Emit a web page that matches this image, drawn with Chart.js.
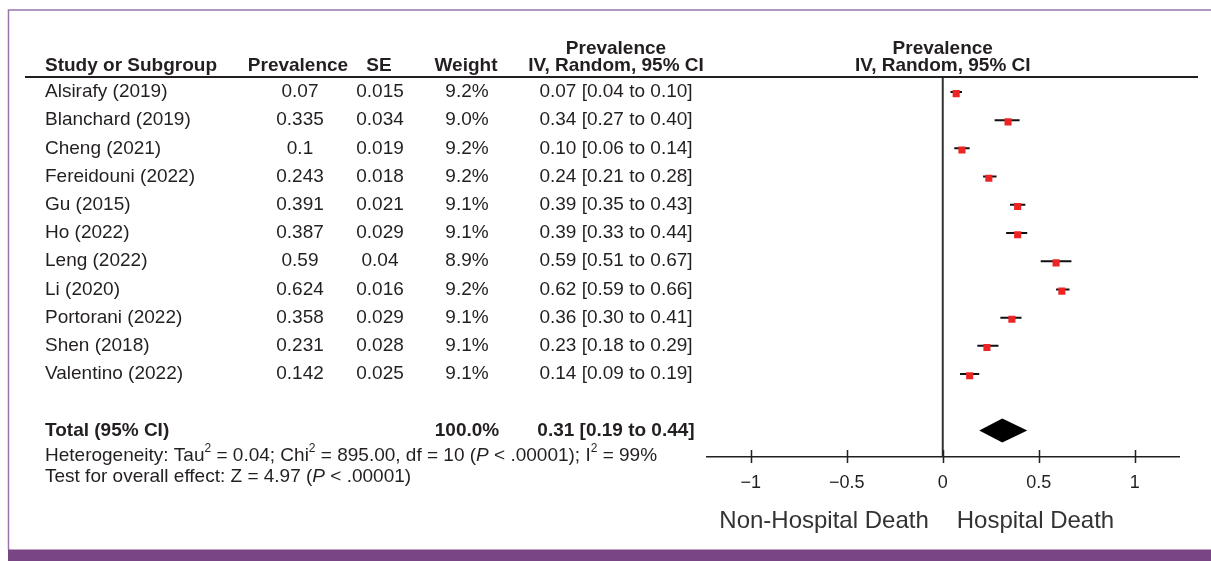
<!DOCTYPE html>
<html>
<head>
<meta charset="utf-8">
<title>Forest plot – hospital death prevalence</title>
<script src="https://cdn.jsdelivr.net/npm/chart.js@4.4.1/dist/chart.umd.min.js"></script>
<style>
  html, body { margin: 0; padding: 0; background: #ffffff; }
  canvas { display: block; }
</style>
</head>
<body>
<canvas id="forest" width="1211" height="561"></canvas>
<script>
// ---- study data ----
const studies = [
  'Alsirafy (2019)', 'Blanchard (2019)', 'Cheng (2021)', 'Fereidouni (2022)',
  'Gu (2015)', 'Ho (2022)', 'Leng (2022)', 'Li (2020)',
  'Portorani (2022)', 'Shen (2018)', 'Valentino (2022)'
];
const prevalenceText = ['0.07', '0.335', '0.1', '0.243', '0.391', '0.387', '0.59', '0.624', '0.358', '0.231', '0.142'];
const seText = ['0.015', '0.034', '0.019', '0.018', '0.021', '0.029', '0.04', '0.016', '0.029', '0.028', '0.025'];
const weightText = ['9.2%', '9.0%', '9.2%', '9.2%', '9.1%', '9.1%', '8.9%', '9.2%', '9.1%', '9.1%', '9.1%'];
const estimates = [0.07, 0.34, 0.10, 0.24, 0.39, 0.39, 0.59, 0.62, 0.36, 0.23, 0.14];
const ciLower   = [0.04, 0.27, 0.06, 0.21, 0.35, 0.33, 0.51, 0.59, 0.30, 0.18, 0.09];
const ciUpper   = [0.10, 0.40, 0.14, 0.28, 0.43, 0.44, 0.67, 0.66, 0.41, 0.29, 0.19];

// pooled estimate
const totalEstimate = 0.31;
const totalLower = 0.19;
const totalUpper = 0.44;
const totalWeightText = '100.0%';

// axis
const xTicks = [-1, -0.5, 0, 0.5, 1];
const xTickLabels = ['\u22121', '\u22120.5', '0', '0.5', '1'];

// ---- layout constants (row units on the y scale) ----
const ROW_TOP = -0.53;
const ROW_BOTTOM = 12.94;
const TOTAL_ROW = 12;
const SQUARE_DROP = 0.06;

const FONT = '"Liberation Sans", Arial, Helvetica, sans-serif';
const INK = '#231F20';

const fmt = v => v.toFixed(2);

// CI whiskers as one line dataset, broken between studies
const whiskers = [];
estimates.forEach((_, i) => {
  whiskers.push({ x: ciLower[i], y: i });
  whiskers.push({ x: ciUpper[i], y: i });
  whiskers.push({ x: null, y: null });
});

function drawRich(ctx, parts, x, y, size) {
  let cx = x;
  parts.forEach(p => {
    const s = typeof p === 'string' ? { t: p } : p;
    const fs = s.sup ? Math.round(size * 0.62) : size;
    ctx.font = (s.italic ? 'italic ' : '') + fs + 'px ' + FONT;
    ctx.fillText(s.t, cx, s.sup ? y - size * 0.36 : y);
    cx += ctx.measureText(s.t).width;
  });
}

const tablePlugin = {
  id: 'forestTable',
  beforeDraw(chart) {
    const ctx = chart.ctx;
    ctx.save();
    ctx.fillStyle = '#ffffff';
    ctx.fillRect(0, 0, chart.width, chart.height);
    // frame
    ctx.strokeStyle = '#9B74AA';
    ctx.lineWidth = 1.5;
    ctx.beginPath();
    ctx.moveTo(8.5, 550);
    ctx.lineTo(8.5, 10);
    ctx.lineTo(chart.width, 10);
    ctx.stroke();
    ctx.fillStyle = '#7A4584';
    ctx.fillRect(8, 549.5, chart.width - 8, chart.height - 549.5);
    ctx.restore();
  },
  afterDatasetsDraw(chart) {
    const ctx = chart.ctx;
    const xs = chart.scales.x;
    const ys = chart.scales.y;
    const area = chart.chartArea;
    ctx.save();

    // header rule
    const headY = ys.getPixelForValue(ROW_TOP);
    ctx.strokeStyle = INK;
    ctx.lineWidth = 2;
    ctx.beginPath();
    ctx.moveTo(25, headY);
    ctx.lineTo(1198, headY);
    ctx.stroke();

    // pooled diamond
    const cy = ys.getPixelForValue(TOTAL_ROW);
    ctx.fillStyle = '#000000';
    ctx.beginPath();
    ctx.moveTo(xs.getPixelForValue(totalLower), cy);
    ctx.lineTo(xs.getPixelForValue(totalEstimate), cy - 12);
    ctx.lineTo(xs.getPixelForValue(totalUpper), cy);
    ctx.lineTo(xs.getPixelForValue(totalEstimate), cy + 12);
    ctx.closePath();
    ctx.fill();

    // crossing tick marks on the axis
    ctx.strokeStyle = INK;
    ctx.lineWidth = 1.5;
    xTicks.forEach(v => {
      const px = Math.round(xs.getPixelForValue(v)) + 0.5;
      ctx.beginPath();
      ctx.moveTo(px, area.bottom - 7);
      ctx.lineTo(px, area.bottom + 6);
      ctx.stroke();
    });

    // column headers
    ctx.fillStyle = INK;
    ctx.textBaseline = 'middle';
    ctx.font = 'bold 19px ' + FONT;
    const h1 = 49, h2 = 66;
    ctx.textAlign = 'left';
    ctx.fillText('Study or Subgroup', 45, h2);
    ctx.textAlign = 'center';
    ctx.fillText('Prevalence', 298, h2);
    ctx.fillText('SE', 379, h2);
    ctx.fillText('Weight', 466, h2);
    ctx.fillText('Prevalence', 616, h1);
    ctx.fillText('IV, Random, 95% CI', 616, h2);
    const plotMid = (area.left + area.right) / 2;
    ctx.fillText('Prevalence', plotMid, h1);
    ctx.fillText('IV, Random, 95% CI', plotMid, h2);

    // study rows
    ctx.font = '19px ' + FONT;
    studies.forEach((name, i) => {
      const y = ys.getPixelForValue(i);
      ctx.textAlign = 'left';
      ctx.fillText(name, 45, y);
      ctx.textAlign = 'center';
      ctx.fillText(prevalenceText[i], 300, y);
      ctx.fillText(seText[i], 380, y);
      ctx.fillText(weightText[i], 467, y);
      ctx.fillText(fmt(estimates[i]) + ' [' + fmt(ciLower[i]) + ' to ' + fmt(ciUpper[i]) + ']', 616, y);
    });

    // total row
    ctx.font = 'bold 19px ' + FONT;
    ctx.textAlign = 'left';
    ctx.fillText('Total (95% CI)', 45, cy);
    ctx.textAlign = 'center';
    ctx.fillText(totalWeightText, 467, cy);
    ctx.fillText(fmt(totalEstimate) + ' [' + fmt(totalLower) + ' to ' + fmt(totalUpper) + ']', 616, cy);

    // heterogeneity statistics
    ctx.textAlign = 'left';
    drawRich(ctx, [
      'Heterogeneity: Tau', { t: '2', sup: true }, ' = 0.04; Chi', { t: '2', sup: true },
      ' = 895.00, df = 10 (', { t: 'P', italic: true }, ' < .00001); I', { t: '2', sup: true }, ' = 99%'
    ], 45, 456, 19);
    drawRich(ctx, [
      'Test for overall effect: Z = 4.97 (', { t: 'P', italic: true }, ' < .00001)'
    ], 45, 477, 19);

    // direction labels under the axis
    const zero = xs.getPixelForValue(0);
    ctx.fillStyle = '#333333';
    ctx.font = '24px ' + FONT;
    ctx.textAlign = 'right';
    ctx.fillText('Non-Hospital Death', zero - 14, 521);
    ctx.textAlign = 'left';
    ctx.fillText('Hospital Death', zero + 14, 521);

    ctx.restore();
  }
};

new Chart(document.getElementById('forest'), {
  type: 'scatter',
  data: {
    datasets: [
      {
        type: 'line',
        data: [{ x: 0, y: ROW_TOP }, { x: 0, y: ROW_BOTTOM }],
        borderColor: '#333333',
        borderWidth: 2,
        pointRadius: 0,
        order: 3
      },
      {
        type: 'line',
        data: whiskers,
        borderColor: '#111111',
        borderWidth: 2,
        pointRadius: 0,
        spanGaps: false,
        order: 2
      },
      {
        data: estimates.map((v, i) => ({ x: v, y: i + SQUARE_DROP })),
        pointStyle: 'rect',
        pointRadius: 5,
        pointHoverRadius: 5,
        backgroundColor: '#EE2424',
        borderWidth: 0,
        order: 1
      }
    ]
  },
  options: {
    responsive: false,
    animation: false,
    devicePixelRatio: 1,
    events: [],
    layout: { padding: { left: 706.5, right: 32, top: 77, bottom: 60 } },
    plugins: { legend: { display: false }, tooltip: { enabled: false } },
    scales: {
      x: {
        type: 'linear',
        min: -1.23,
        max: 1.23,
        afterBuildTicks: scale => { scale.ticks = xTicks.map(v => ({ value: v })); },
        afterFit: scale => { scale.height = 44; },
        border: { display: true, color: INK, width: 1.5 },
        grid: { display: true, drawOnChartArea: false, drawTicks: false },
        ticks: {
          autoSkip: false,
          maxRotation: 0,
          padding: 15,
          color: INK,
          font: { family: FONT, size: 18 },
          callback: v => xTickLabels[xTicks.indexOf(v)]
        }
      },
      y: {
        type: 'linear',
        min: ROW_TOP,
        max: ROW_BOTTOM,
        reverse: true,
        display: false
      }
    }
  },
  plugins: [tablePlugin]
});
</script>
</body>
</html>
